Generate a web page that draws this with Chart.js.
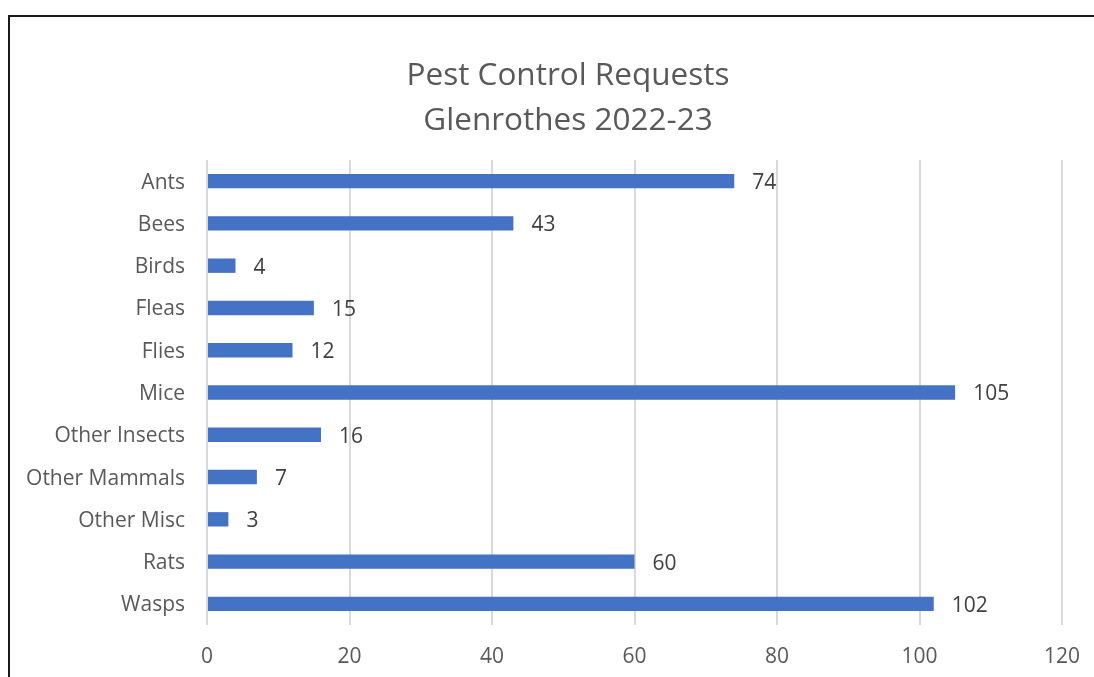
<!DOCTYPE html>
<html>
<head>
<meta charset="utf-8">
<script src="https://cdn.jsdelivr.net/npm/chart.js@4"></script>
<style>
  html, body { margin: 0; padding: 0; background: #fff; }
  #wrap { position: relative; width: 1094px; height: 677px; overflow: hidden; }
  #frame { position: absolute; left: 8px; top: 15px; width: 2000px; height: 2000px;
           border-left: 2px solid #1a1a1a; border-top: 2px solid #1a1a1a; }
  canvas { position: absolute; left: 0; top: 0; }
</style>
</head>
<body>
<div id="wrap">
  <div id="frame"></div>
  <canvas id="chart" width="1094" height="677"></canvas>
</div>
<script>
// data
var categories = ["Ants", "Bees", "Birds", "Fleas", "Flies", "Mice", "Other Insects",
                  "Other Mammals", "Other Misc", "Rats", "Wasps"];
var requests = [74, 43, 4, 15, 12, 105, 16, 7, 3, 60, 102];
var titleLines = ["Pest Control Requests", "Glenrothes 2022-23"];
var xMax = 120;
var xStep = 20;

var FONT = "'Open Sans', sans-serif";

// two-line title, centred on the frame rather than the canvas
var chartTitle = {
  id: "chartTitle",
  afterDraw: function (chart) {
    var ctx = chart.ctx;
    ctx.save();
    ctx.font = "31.5px " + FONT;
    ctx.fillStyle = "#595959";
    ctx.textAlign = "center";
    ctx.textBaseline = "middle";
    titleLines.forEach(function (line, i) {
      ctx.fillText(line, 568, 76 + i * 45);
    });
    ctx.restore();
  }
};

// value labels to the right of each bar
var valueLabels = {
  id: "valueLabels",
  afterDatasetsDraw: function (chart) {
    var ctx = chart.ctx;
    var meta = chart.getDatasetMeta(0);
    ctx.save();
    ctx.font = "21px " + FONT;
    ctx.fillStyle = "#404040";
    ctx.textAlign = "left";
    ctx.textBaseline = "middle";
    meta.data.forEach(function (bar, i) {
      ctx.fillText(String(requests[i]), bar.x + 18, bar.y + 2);
    });
    ctx.restore();
  }
};

var ctx = document.getElementById("chart").getContext("2d");
var chart = new Chart(ctx, {
  type: "bar",
  data: {
    labels: categories,
    datasets: [{
      label: "Requests",
      data: requests,
      backgroundColor: "#4472C4",
      barPercentage: 0.34,
      categoryPercentage: 1.0
    }]
  },
  options: {
    indexAxis: "y",
    responsive: false,
    animation: false,
    layout: { padding: { left: 0, right: 32, top: 160, bottom: 0 } },
    plugins: {
      legend: { display: false },
      tooltip: { enabled: false },
      title: { display: false }
    },
    scales: {
      x: {
        min: 0,
        max: xMax,
        ticks: { stepSize: xStep, color: "#595959", font: { family: FONT, size: 21 }, padding: 19 },
        grid: { color: "#d9d9d9", lineWidth: 2, drawTicks: false },
        border: { display: false },
        afterFit: function (scale) {
          scale.height = 52;
          scale.paddingLeft = 0;
          scale.paddingRight = 0;
        }
      },
      y: {
        ticks: { color: "#595959", font: { family: FONT, size: 21 }, padding: 22, labelOffset: 1.5 },
        grid: { display: false, drawTicks: false },
        border: { display: false },
        afterFit: function (scale) { scale.width = 207; }
      }
    }
  },
  plugins: [valueLabels, chartTitle]
});
</script>
</body>
</html>
